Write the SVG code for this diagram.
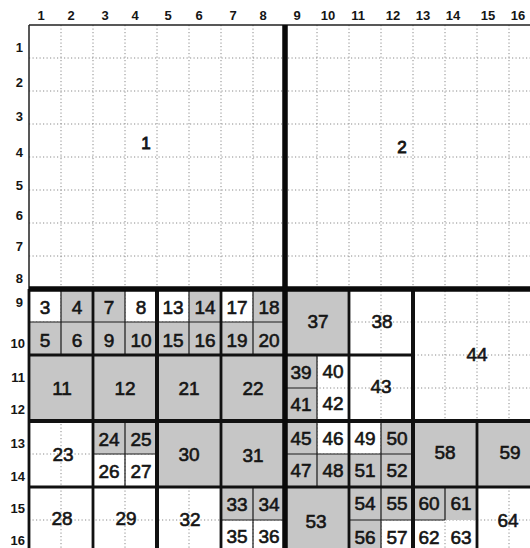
<svg xmlns="http://www.w3.org/2000/svg" width="530" height="548" viewBox="0 0 530 548">
<style>
.gr{fill:#c6c6c6}
.dot{fill:none;stroke:#8a8a8a;stroke-width:1;stroke-dasharray:1.2 2.3}
.t{stroke:#1a1a1a;stroke-width:1.2;fill:none}
.m{stroke:#111;stroke-width:2.8;fill:none}
.k{stroke:#111;stroke-width:4;fill:none}
.q{stroke:#0a0a0a;stroke-width:5.5;fill:none}
.b{stroke:#222;stroke-width:1.5;fill:none}
text{font-family:"Liberation Sans",Arial,Helvetica,sans-serif;fill:#151515}
.n{font-size:19px;font-weight:normal;stroke:#151515;stroke-width:0.6;text-anchor:middle;dominant-baseline:central}
.ax{font-size:13px;font-weight:bold;dominant-baseline:central}
.cx{text-anchor:middle}
.rx{text-anchor:end}
</style>
<rect x="0" y="0" width="530" height="548" fill="#ffffff"/>
<g id="dotted-grid">
<path class="dot" d="M61 25V548M93 25V548M125 25V548M157 25V548M189 25V548M221 25V548M253 25V548M317 25V548M349 25V548M381 25V548M413 25V548M445 25V548M477 25V548M509 25V548M29 58H530M29 91H530M29 124H530M29 157H530M29 190H530M29 223H530M29 256H530M29 322H530M29 355H530M29 388H530M29 454H530M29 487H530M29 520H530"/>
</g>
<g id="shading">
<rect class="gr" x="61" y="289" width="64" height="33"/>
<rect class="gr" x="189" y="289" width="32" height="33"/>
<rect class="gr" x="253" y="289" width="32" height="33"/>
<rect class="gr" x="29" y="322" width="256" height="33"/>
<rect class="gr" x="29" y="355" width="256" height="66"/>
<rect class="gr" x="93" y="421" width="64" height="33"/>
<rect class="gr" x="157" y="421" width="128" height="66"/>
<rect class="gr" x="221" y="487" width="64" height="33"/>
<rect class="gr" x="285" y="289" width="64" height="66"/>
<rect class="gr" x="285" y="355" width="32" height="66"/>
<rect class="gr" x="285" y="421" width="32" height="33"/>
<rect class="gr" x="285" y="454" width="64" height="33"/>
<rect class="gr" x="381" y="421" width="32" height="33"/>
<rect class="gr" x="349" y="454" width="64" height="33"/>
<rect class="gr" x="285" y="487" width="64" height="61"/>
<rect class="gr" x="349" y="487" width="128" height="33"/>
<rect class="gr" x="349" y="520" width="32" height="28"/>
<rect class="gr" x="413" y="421" width="117" height="66"/>
</g>
<g id="connectors">
<path class="t" d="M29 322H285M61 289V355M125 289V355M189 289V355M253 289V355M125 421V487M93 454H157M253 487V548M221 520H285M317 355V421M285 388H317M285 454H413M317 421V487M381 421V487M349 520H445M381 487V548M445 487V520"/>
<path class="b" d="M29 25H530M29 25V289"/>
<path class="m" d="M29 289V548M93 289V548M221 289V548M349 289V548M477 421V548M29 355H413M29 487H530"/>
<path class="k" d="M157 289V548M413 289V548M29 421H530"/>
<path class="q" d="M285 25V548M29 289H530"/>
</g>
<g id="axis-columns">
<text class="ax cx" x="41" y="15">1</text>
<text class="ax cx" x="71" y="15">2</text>
<text class="ax cx" x="105" y="15">3</text>
<text class="ax cx" x="135" y="15">4</text>
<text class="ax cx" x="168" y="15">5</text>
<text class="ax cx" x="199" y="15">6</text>
<text class="ax cx" x="233" y="15">7</text>
<text class="ax cx" x="263" y="15">8</text>
<text class="ax cx" x="297" y="15">9</text>
<text class="ax cx" x="328" y="15">10</text>
<text class="ax cx" x="358" y="15">11</text>
<text class="ax cx" x="393" y="15">12</text>
<text class="ax cx" x="423" y="15">13</text>
<text class="ax cx" x="453" y="15">14</text>
<text class="ax cx" x="488" y="15">15</text>
<text class="ax cx" x="518" y="15">16</text>
</g>
<g id="axis-rows">
<text class="ax rx" x="23" y="47">1</text>
<text class="ax rx" x="23" y="82">2</text>
<text class="ax rx" x="23" y="116">3</text>
<text class="ax rx" x="23" y="152">4</text>
<text class="ax rx" x="23" y="185">5</text>
<text class="ax rx" x="23" y="215">6</text>
<text class="ax rx" x="23" y="246">7</text>
<text class="ax rx" x="23" y="278">8</text>
<text class="ax rx" x="23" y="302">9</text>
<text class="ax rx" x="25" y="343">10</text>
<text class="ax rx" x="25" y="377">11</text>
<text class="ax rx" x="25" y="409">12</text>
<text class="ax rx" x="25" y="443">13</text>
<text class="ax rx" x="25" y="476">14</text>
<text class="ax rx" x="25" y="508">15</text>
<text class="ax rx" x="25" y="540">16</text>
</g>
<g id="c1"><text class="n" x="146" y="143" style="font-size:17px;stroke-width:0.9">1</text></g>
<g id="c2"><text class="n" x="402" y="147" style="font-size:17px;stroke-width:0.9">2</text></g>
<g id="c3"><text class="n" x="45" y="307">3</text></g>
<g id="c4"><text class="n" x="77" y="307">4</text></g>
<g id="c7"><text class="n" x="109" y="307">7</text></g>
<g id="c8"><text class="n" x="141" y="307">8</text></g>
<g id="c13"><text class="n" x="173" y="307">13</text></g>
<g id="c14"><text class="n" x="205" y="307">14</text></g>
<g id="c17"><text class="n" x="237" y="307">17</text></g>
<g id="c18"><text class="n" x="269" y="307">18</text></g>
<g id="c5"><text class="n" x="45" y="340">5</text></g>
<g id="c6"><text class="n" x="77" y="340">6</text></g>
<g id="c9"><text class="n" x="109" y="340">9</text></g>
<g id="c10"><text class="n" x="141" y="340">10</text></g>
<g id="c15"><text class="n" x="173" y="340">15</text></g>
<g id="c16"><text class="n" x="205" y="340">16</text></g>
<g id="c19"><text class="n" x="237" y="340">19</text></g>
<g id="c20"><text class="n" x="269" y="340">20</text></g>
<g id="c11"><text class="n" x="62" y="388">11</text></g>
<g id="c12"><text class="n" x="125" y="388">12</text></g>
<g id="c21"><text class="n" x="189" y="388">21</text></g>
<g id="c22"><text class="n" x="253" y="388">22</text></g>
<g id="c23"><text class="n" x="63" y="454">23</text></g>
<g id="c24"><text class="n" x="109" y="439">24</text></g>
<g id="c25"><text class="n" x="141" y="439">25</text></g>
<g id="c26"><text class="n" x="109" y="471">26</text></g>
<g id="c27"><text class="n" x="141" y="471">27</text></g>
<g id="c30"><text class="n" x="189" y="454">30</text></g>
<g id="c31"><text class="n" x="253" y="455">31</text></g>
<g id="c28"><text class="n" x="62" y="518">28</text></g>
<g id="c29"><text class="n" x="126" y="518">29</text></g>
<g id="c32"><text class="n" x="190" y="519">32</text></g>
<g id="c33"><text class="n" x="237" y="504">33</text></g>
<g id="c34"><text class="n" x="269" y="504">34</text></g>
<g id="c35"><text class="n" x="237" y="536">35</text></g>
<g id="c36"><text class="n" x="269" y="536">36</text></g>
<g id="c37"><text class="n" x="318" y="321">37</text></g>
<g id="c38"><text class="n" x="382" y="321">38</text></g>
<g id="c39"><text class="n" x="301" y="372">39</text></g>
<g id="c40"><text class="n" x="333" y="371">40</text></g>
<g id="c41"><text class="n" x="301" y="404">41</text></g>
<g id="c42"><text class="n" x="333" y="403">42</text></g>
<g id="c43"><text class="n" x="381" y="386">43</text></g>
<g id="c44"><text class="n" x="477" y="354">44</text></g>
<g id="c45"><text class="n" x="301" y="438">45</text></g>
<g id="c46"><text class="n" x="333" y="438">46</text></g>
<g id="c49"><text class="n" x="365" y="438">49</text></g>
<g id="c50"><text class="n" x="397" y="438">50</text></g>
<g id="c47"><text class="n" x="301" y="470">47</text></g>
<g id="c48"><text class="n" x="333" y="470">48</text></g>
<g id="c51"><text class="n" x="365" y="470">51</text></g>
<g id="c52"><text class="n" x="397" y="470">52</text></g>
<g id="c58"><text class="n" x="445" y="452">58</text></g>
<g id="c59"><text class="n" x="510" y="452">59</text></g>
<g id="c53"><text class="n" x="316" y="521">53</text></g>
<g id="c54"><text class="n" x="365" y="503">54</text></g>
<g id="c55"><text class="n" x="397" y="503">55</text></g>
<g id="c60"><text class="n" x="429" y="503">60</text></g>
<g id="c61"><text class="n" x="461" y="503">61</text></g>
<g id="c56"><text class="n" x="365" y="537">56</text></g>
<g id="c57"><text class="n" x="397" y="537">57</text></g>
<g id="c62"><text class="n" x="429" y="537">62</text></g>
<g id="c63"><text class="n" x="461" y="537">63</text></g>
<g id="c64"><text class="n" x="508" y="520">64</text></g>
</svg>
